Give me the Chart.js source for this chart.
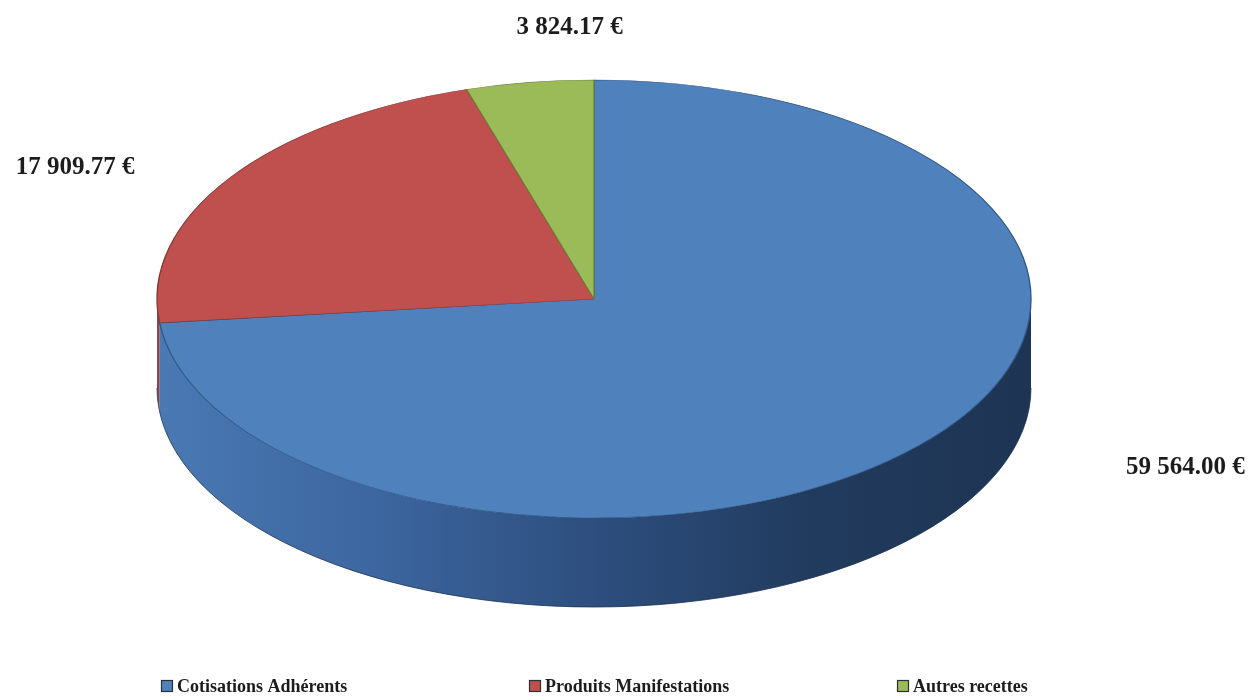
<!DOCTYPE html>
<html>
<head>
<meta charset="utf-8">
<script src="https://cdn.jsdelivr.net/npm/chart.js@4.4.0/dist/chart.umd.min.js"></script>
<style>
  html, body { margin: 0; padding: 0; background: #ffffff; }
  #wrap { width: 1258px; height: 700px; position: relative; }
</style>
</head>
<body>
<div id="wrap"><canvas id="c" width="1258" height="700"></canvas></div>
<script>
// ---- data ----
const categories = ['Cotisations Adhérents', 'Produits Manifestations', 'Autres recettes'];
const values = [59564.00, 17909.77, 3824.17];
const topColors = ['#4f81bd', '#c0504d', '#9bbb59'];
const edgeColors = ['#2f5580', '#853634', '#6a8239'];
const sideGradients = [
  ['#4a79b3', '#3c669f', '#2d4e7e', '#213b5e', '#1e3453'],
  ['#7e4a5a', '#6e4258', '#5a3a55', '#4a3450', '#40304c'],
  ['#88a54e', '#7a9446', '#667c3a', '#556832', '#4c5d2c']
];

function formatEuro(v) {
  const parts = v.toFixed(2).split('.');
  return parts[0].replace(/\B(?=(\d{3})+(?!\d))/g, ' ') + '.' + parts[1] + ' €';
}

// ---- 3D pie plugin: draws the extruded side and maps the library's circle onto an ellipse ----
function ellipseGeom(chart, opts) {
  const ca = chart.chartArea;
  const rx = (ca.right - ca.left) / 2;
  const ry = (ca.bottom - ca.top - opts.depth) / 2;
  return { cx: ca.left + rx, cy: ca.top + ry, rx, ry, ca };
}

const pie3d = {
  id: 'pie3d',
  beforeDatasetsDraw(chart, args, opts) {
    const arcs = chart.getDatasetMeta(0).data;
    if (!arcs.length) return;
    const g = ellipseGeom(chart, opts);
    const ctx = chart.ctx;
    // side walls (front half only: angles 0..PI)
    ctx.save();
    arcs.forEach((arc, i) => {
      const p = arc.getProps(['startAngle', 'endAngle']);
      [-2 * Math.PI, 0, 2 * Math.PI].forEach(k => {
        const a = Math.max(p.startAngle + k, 0);
        const b = Math.min(p.endAngle + k, Math.PI);
        if (a < b) {
          ctx.beginPath();
          ctx.ellipse(g.cx, g.cy, g.rx, g.ry, 0, a, b, false);
          ctx.ellipse(g.cx, g.cy + opts.depth, g.rx, g.ry, 0, b, a, true);
          ctx.closePath();
          const grad = ctx.createLinearGradient(g.ca.left, 0, g.ca.right, 0);
          const stops = sideGradients[i];
          stops.forEach((c, j) => grad.addColorStop(j / (stops.length - 1), c));
          ctx.fillStyle = grad;
          ctx.fill();
        }
      });
    });
    // bottom silhouette
    ctx.beginPath();
    ctx.ellipse(g.cx, g.cy + opts.depth, g.rx, g.ry, 0, 0, Math.PI, false);
    ctx.lineWidth = 0.8;
    ctx.strokeStyle = '#1d3150';
    ctx.stroke();
    ctx.restore();
    // map top face
    const R = arcs[0].outerRadius, ox = arcs[0].x, oy = arcs[0].y;
    ctx.save();
    ctx.translate(g.cx, g.cy);
    ctx.scale(g.rx / R, g.ry / R);
    ctx.translate(-ox, -oy);
  },
  afterDatasetsDraw(chart) {
    chart.ctx.restore();
  },
  afterDraw(chart, args, opts) {
    const arcs = chart.getDatasetMeta(0).data;
    if (!arcs.length) return;
    const g = ellipseGeom(chart, opts);
    const ctx = chart.ctx;
    ctx.save();
    // value labels
    ctx.font = opts.labelFont;
    ctx.fillStyle = '#1c1c1c';
    ctx.textAlign = 'center';
    ctx.textBaseline = 'middle';
    arcs.forEach((arc, i) => {
      const p = arc.getProps(['startAngle', 'endAngle']);
      const m = (p.startAngle + p.endAngle) / 2;
      const off = opts.labelOffsets[i];
      const x = g.cx + g.rx * Math.cos(m) + off[0];
      const y = g.cy + g.ry * Math.sin(m) + off[1];
      ctx.fillText(formatEuro(values[i]), x, y);
    });
    // legend in fixed columns
    ctx.font = opts.legendFont;
    ctx.textAlign = 'left';
    categories.forEach((name, i) => {
      const x0 = g.ca.left + opts.legendInset + i * opts.legendColumn;
      const y0 = opts.legendY;
      ctx.fillStyle = topColors[i];
      ctx.fillRect(x0, y0 - 6, 12, 12);
      ctx.lineWidth = 1.2;
      ctx.strokeStyle = '#2a2f3a';
      ctx.strokeRect(x0 + 0.5, y0 - 5.5, 11, 11);
      ctx.fillStyle = '#1c1c1c';
      ctx.fillText(name, x0 + 16, y0 + 1);
    });
    ctx.restore();
  }
};

new Chart(document.getElementById('c'), {
  type: 'pie',
  data: {
    labels: categories,
    datasets: [{
      data: values,
      backgroundColor: topColors,
      borderColor: edgeColors,
      borderWidth: 0.8
    }]
  },
  options: {
    responsive: false,
    animation: false,
    devicePixelRatio: 1,
    rotation: 0,
    layout: { padding: { top: 80, left: 157, right: 227, bottom: 93 } },
    plugins: {
      legend: { display: false },
      tooltip: { enabled: false },
      pie3d: {
        depth: 89,
        labelFont: 'bold 25px "Liberation Serif", "Times New Roman", serif',
        legendFont: 'bold 18px "Liberation Serif", "Times New Roman", serif',
        labelOffsets: [[266, 22], [-154, -11], [40, -55]],
        legendInset: 4,
        legendColumn: 368,
        legendY: 686
      }
    }
  },
  plugins: [pie3d]
});
</script>
</body>
</html>
